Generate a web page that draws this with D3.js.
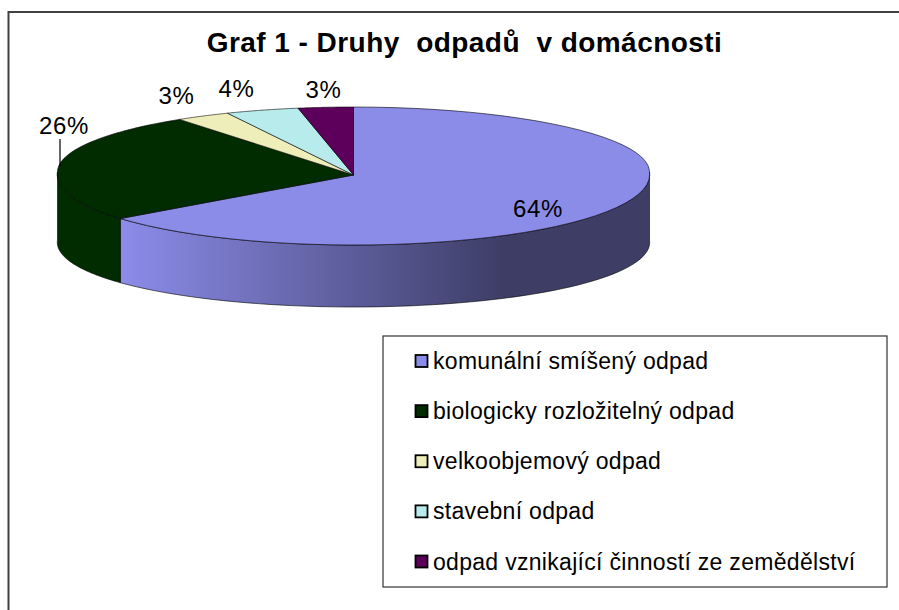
<!DOCTYPE html>
<html>
<head>
<meta charset="utf-8">
<script src="https://cdnjs.cloudflare.com/ajax/libs/d3/7.8.5/d3.min.js"></script>
<style>
  html, body { margin: 0; padding: 0; background: #fff; overflow: hidden; }
  svg { display: block; }
  text { font-family: "Liberation Sans", Arial, sans-serif; fill: #000; }
</style>
</head>
<body>
<script>
const categories = ["komunální smíšený odpad", "biologicky rozložitelný odpad", "velkoobjemový odpad", "stavební odpad", "odpad vznikající činností ze zemědělství"];
const values = [64, 26, 3, 4, 3];
const colors = ["#8b8be8", "#002c00", "#eeeebb", "#b8ecec", "#5c005c"];
const sideColors = ["url(#sideBlue)", "#002c00", "#d0d0a0", "#a0d0d0", "#4a004a"];

const width = 899, height = 610;
const cx = 353.5, rx = 296;
const apexY = 175, midY = 172;      // widest point sits above the apex (perspective)
const backR = 65, frontR = 73;      // top ellipse, back and front half
const floorY = 240, floorR = 67;    // bottom edge of the wall

const svg = d3.select("body").append("svg")
  .attr("width", width)
  .attr("height", height);

// gradient on the front wall
const grad = svg.append("defs").append("linearGradient")
  .attr("id", "sideBlue")
  .attr("gradientUnits", "userSpaceOnUse")
  .attr("x1", 125).attr("x2", 505).attr("y1", 0).attr("y2", 0);
grad.append("stop").attr("offset", 0).attr("stop-color", "#8b8be8");
grad.append("stop").attr("offset", 1).attr("stop-color", "#3d3d66");

// chart frame, runs off the right and bottom of the picture
svg.append("rect")
  .attr("x", 8.5).attr("y", 12)
  .attr("width", 1000).attr("height", 1000)
  .attr("fill", "#fff")
  .attr("stroke", "#404040")
  .attr("stroke-width", 2);

svg.append("text")
  .attr("x", 464.5).attr("y", 52)
  .attr("text-anchor", "middle")
  .attr("font-size", 28)
  .attr("font-weight", "bold")
  .attr("letter-spacing", 0.45)
  .attr("xml:space", "preserve")
  .text("Graf 1 - Druhy  odpadů  v domácnosti");

const pie = d3.pie().sort(null)(values);

// point on the rim, angle clockwise from the top; front is a bit wider
const px = a => cx + rx * Math.sin(a) * (1 + 0.035 * Math.max(0, -Math.cos(a)));
const py = a => {
  const c = Math.cos(a);
  return midY - (c > 0 ? backR : frontR) * c;
};
const pyFloor = a => floorY - floorR * Math.cos(a);
const steps = (a0, a1) => d3.range(0, 61).map(k => a0 + (a1 - a0) * k / 60);

// front wall: only the part of a slice with angle between 90 and 270 deg
const g = svg.append("g");
pie.forEach((d, i) => {
  const a0 = Math.max(d.startAngle, Math.PI / 2);
  const a1 = Math.min(d.endAngle, Math.PI * 1.5);
  if (a1 <= a0) return;
  const s = steps(a0, a1);
  const top = s.map(a => [px(a), py(a)]);
  const bottom = s.slice().reverse().map(a => [px(a), pyFloor(a)]);
  g.append("path")
    .attr("d", d3.line()(top.concat(bottom)) + "Z")
    .attr("fill", sideColors[i])
    .attr("stroke", "#000")
    .attr("stroke-opacity", 0.75)
    .attr("stroke-width", 0.8);
});

// top of the pie
svg.append("g").selectAll("path")
  .data(pie)
  .enter().append("path")
  .attr("d", d => d3.line()([[cx, apexY]].concat(steps(d.startAngle, d.endAngle).map(a => [px(a), py(a)]))) + "Z")
  .attr("fill", (d, i) => colors[i])
  .attr("stroke", "#000")
  .attr("stroke-opacity", 0.75)
  .attr("stroke-width", 0.8);

// data labels
const labelX = [538, 64, 176.5, 236.5, 323.5];
const labelY = [217, 134, 104, 97, 98];
svg.append("g").selectAll("text")
  .data(values)
  .enter().append("text")
  .attr("x", (d, i) => labelX[i])
  .attr("y", (d, i) => labelY[i])
  .attr("text-anchor", "middle")
  .attr("font-size", 24)
  .attr("letter-spacing", 0.6)
  .text(d => d + "%");

// leader line of the 26% label
svg.append("line")
  .attr("x1", 60).attr("x2", 60)
  .attr("y1", 139).attr("y2", 166)
  .attr("stroke", "#000")
  .attr("stroke-width", 1.2);

// legend
svg.append("rect")
  .attr("x", 383).attr("y", 336)
  .attr("width", 504).attr("height", 251)
  .attr("fill", "#fff")
  .attr("stroke", "#333")
  .attr("stroke-width", 1.2);

const legendY = d3.scalePoint().domain(categories).range([361, 561.5]);
const legend = svg.append("g").selectAll("g")
  .data(categories)
  .enter().append("g")
  .attr("transform", d => `translate(415.5,${legendY(d)})`);
legend.append("rect")
  .attr("x", 0).attr("y", -6)
  .attr("width", 12).attr("height", 12)
  .attr("fill", (d, i) => colors[i])
  .attr("stroke", "#000")
  .attr("stroke-width", 1.8);
legend.append("text")
  .attr("x", 17.5).attr("y", 8)
  .attr("font-size", 23)
  .attr("letter-spacing", 0.3)
  .text(d => d);
</script>
</body>
</html>
